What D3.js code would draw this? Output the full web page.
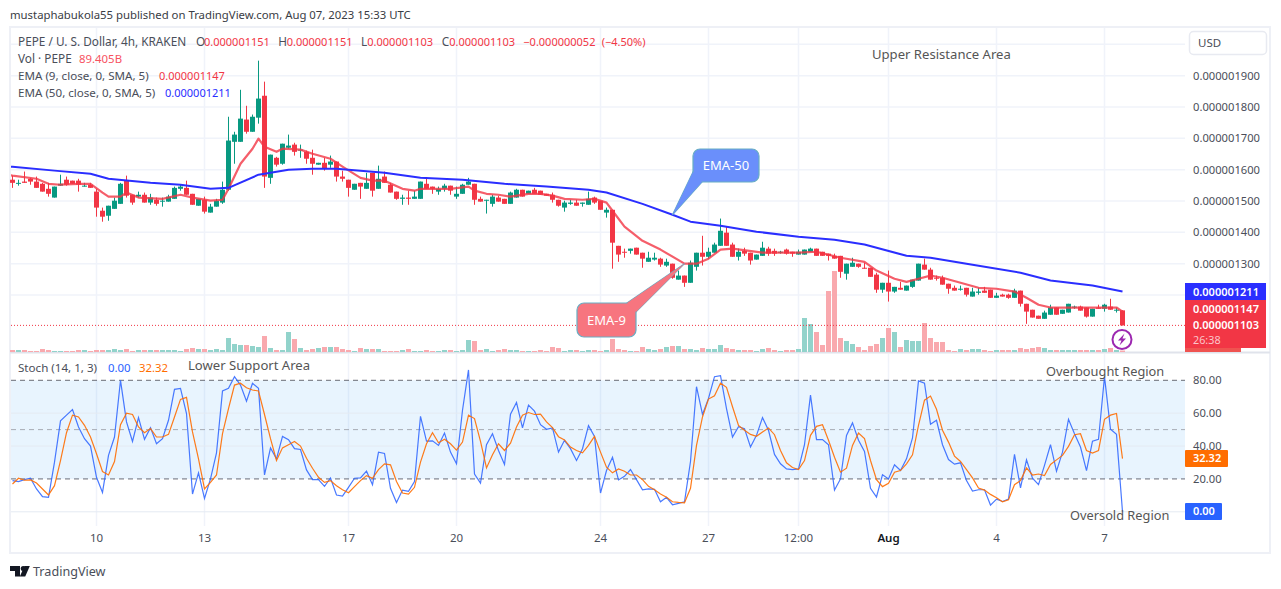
<!DOCTYPE html>
<html>
<head>
<meta charset="utf-8">
<script src="https://d3js.org/d3.v7.min.js"></script>
<style>
  html, body { margin: 0; padding: 0; background: #fff; }
  svg { display: block; }
  text { font-family: "Noto Sans", sans-serif; font-size: 12px; }
</style>
</head>
<body>
<div id="chart"></div>
<script>
// all prices are in units of 0.000000001 USD, bars are 4h candles
var opens = [
  1568,1555,1562,1571,1562,1555,1539,1511,1549,1568,
  1565,1565,1546,1552,1530,1469,1453,1475,1491,1565,
  1520,1514,1520,1495,1504,1498,1498,1507,1539,1542,
  1523,1485,1504,1463,1482,1495,1536,1689,1689,1760,
  1721,1766,1836,1574,1638,1619,1670,1680,1661,1657,
  1638,1616,1622,1616,1626,1578,1568,1536,1558,1539,
  1590,1539,1578,1552,1530,1507,1511,1507,1507,1555,
  1546,1530,1539,1549,1514,1523,1552,1555,1507,1501,
  1491,1511,1507,1491,1511,1536,1523,1536,1533,1523,
  1520,1504,1479,1491,1495,1491,1488,1511,1501,1463,
  1472,1357,1338,1341,1351,1335,1306,1313,1316,1294,
  1300,1249,1262,1239,1290,1335,1322,1335,1357,1399,
  1361,1322,1341,1335,1313,1325,1348,1341,1335,1345,
  1338,1329,1329,1338,1348,1338,1332,1325,1325,1268,
  1290,1300,1287,1287,1265,1217,1239,1211,1223,1214,
  1226,1246,1297,1281,1255,1255,1236,1223,1217,1223,
  1195,1207,1214,1217,1191,1201,1201,1191,1214,1172,
  1153,1134,1124,1137,1160,1140,1144,1160,1163,1160,
  1131,1160,1156,1163,1150,1151];
var closes = [
  1558,1558,1558,1562,1542,1530,1523,1546,1555,1552,
  1555,1552,1549,1542,1479,1450,1485,1501,1555,1517,
  1495,1520,1495,1511,1491,1501,1514,1542,1546,1520,
  1488,1507,1466,1482,1501,1536,1693,1712,1763,1721,
  1769,1827,1578,1648,1616,1683,1677,1657,1664,1635,
  1619,1622,1603,1626,1578,1571,1542,1555,1546,1558,
  1533,1571,1558,1527,1507,1511,1507,1514,1562,1539,
  1539,1539,1549,1533,1523,1552,1562,1504,1498,1504,
  1514,1498,1491,1527,1536,1514,1533,1523,1520,1517,
  1504,1485,1495,1495,1485,1495,1507,1495,1472,1472,
  1367,1329,1335,1348,1329,1316,1319,1319,1297,1306,
  1255,1262,1239,1303,1335,1322,1338,1361,1405,1357,
  1322,1338,1332,1310,1329,1351,1332,1332,1338,1332,
  1332,1338,1345,1348,1325,1325,1325,1316,1274,1300,
  1303,1290,1284,1258,1217,1239,1211,1226,1217,1230,
  1249,1300,1281,1249,1252,1233,1220,1214,1220,1201,
  1211,1211,1207,1191,1198,1195,1191,1214,1172,1147,
  1128,1124,1144,1160,1137,1153,1172,1163,1150,1131,
  1156,1156,1169,1153,1153,1103];
var highs = [
  1581,1568,1594,1574,1578,1558,1558,1546,1584,1578,
  1565,1571,1558,1558,1539,1479,1485,1511,1558,1581,
  1520,1530,1527,1523,1511,1511,1520,1546,1552,1565,
  1523,1507,1514,1491,1507,1562,1769,1721,1855,1804,
  1776,1948,1881,1648,1641,1683,1712,1686,1680,1661,
  1664,1622,1638,1645,1626,1597,1568,1555,1558,1590,
  1590,1613,1594,1558,1530,1520,1533,1533,1562,1574,
  1546,1546,1555,1549,1546,1555,1574,1555,1514,1504,
  1520,1517,1507,1530,1539,1536,1533,1542,1533,1523,
  1527,1504,1501,1504,1504,1495,1530,1514,1501,1479,
  1472,1357,1348,1348,1351,1335,1338,1335,1319,1316,
  1300,1278,1262,1310,1335,1389,1351,1367,1444,1418,
  1367,1348,1351,1335,1329,1370,1354,1348,1341,1348,
  1338,1345,1345,1351,1348,1338,1332,1332,1325,1300,
  1319,1300,1303,1287,1271,1239,1278,1226,1242,1230,
  1249,1300,1316,1287,1262,1262,1236,1230,1230,1223,
  1223,1223,1226,1217,1207,1204,1204,1220,1214,1172,
  1153,1134,1150,1169,1160,1153,1172,1166,1166,1160,
  1156,1169,1172,1188,1160,1151];
var lows = [
  1542,1549,1558,1552,1542,1530,1514,1511,1549,1549,
  1555,1530,1546,1542,1450,1434,1437,1475,1491,1511,
  1488,1511,1495,1488,1485,1482,1498,1507,1533,1520,
  1488,1485,1460,1463,1482,1491,1533,1619,1689,1715,
  1721,1747,1542,1555,1610,1616,1667,1645,1638,1619,
  1584,1616,1597,1606,1562,1562,1514,1536,1507,1539,
  1514,1539,1558,1527,1504,1488,1488,1507,1507,1539,
  1523,1520,1530,1520,1507,1523,1552,1488,1498,1460,
  1482,1498,1491,1491,1511,1514,1523,1523,1520,1517,
  1495,1482,1466,1488,1485,1482,1488,1491,1472,1447,
  1284,1306,1319,1332,1329,1287,1306,1310,1290,1290,
  1252,1249,1226,1239,1278,1294,1316,1335,1357,1357,
  1322,1310,1325,1297,1313,1325,1325,1325,1332,1329,
  1322,1329,1329,1338,1325,1325,1310,1316,1255,1249,
  1290,1287,1284,1258,1207,1207,1179,1207,1217,1214,
  1223,1246,1281,1249,1246,1233,1204,1214,1214,1195,
  1195,1201,1207,1191,1191,1195,1188,1191,1163,1108,
  1128,1124,1124,1137,1137,1140,1144,1156,1150,1128,
  1131,1156,1147,1153,1144,1103];

// volume in billions of PEPE
var volumes = [
  120,120,120,60,60,180,120,60,60,60,
  60,120,120,60,120,120,120,180,120,180,
  60,120,120,120,120,120,120,120,60,180,
  240,180,180,120,180,120,840,480,420,420,
  360,300,960,240,120,120,1200,780,240,120,
  180,240,300,300,300,180,120,60,240,180,
  180,180,60,60,60,120,180,60,60,120,
  60,60,120,120,60,120,720,660,120,180,
  60,120,180,120,120,60,60,60,120,60,
  300,240,60,120,120,60,120,120,60,120,
  780,180,120,60,60,300,180,120,180,300,
  360,360,180,180,120,240,180,180,420,240,
  180,120,120,120,60,180,240,120,60,120,
  120,180,2040,1680,1200,420,3660,4860,840,660,
  480,300,120,360,480,840,1440,1200,300,720,
  660,660,1740,840,600,600,120,60,180,120,
  180,180,120,60,120,120,120,120,240,180,
  240,300,240,120,120,120,120,120,120,120,
  120,120,180,240,120,89.405];

// moving averages, read at the bars listed next to them (bar -1 is cut off by the pane edge)
var ema9Bars = [-1,0,4,6,8,11,13,15,16,18,19,21,25,28,30,33,35,36,38,40,41,42,44,45,48,50,53,55,58,60,62,65,67,68,73,76,77,79,81,83,86,88,90,92,95,97,99,100,102,105,108,112,114,116,118,120,125,131,134,138,142,144,147,149,151,153,155,158,161,164,167,169,171,173,178,184,185];
var ema9Values = [1584,1581,1571,1555,1552,1555,1555,1527,1514,1514,1527,1511,1507,1520,1511,1501,1504,1539,1619,1667,1699,1673,1657,1667,1664,1651,1635,1610,1574,1565,1565,1539,1533,1539,1539,1546,1533,1523,1520,1514,1523,1523,1517,1507,1504,1507,1495,1469,1418,1373,1345,1300,1300,1316,1345,1348,1335,1335,1338,1319,1306,1278,1252,1242,1252,1262,1255,1239,1223,1220,1211,1191,1169,1160,1160,1160,1147];
var ema50Bars = [-1,0,7,13,16,23,28,33,36,41,43,46,50,54,56,62,68,75,82,89,96,99,105,110,113,118,124,131,137,142,149,153,159,168,173,180,185];
var ema50Values = [1611,1609,1597,1587,1571,1558,1552,1539,1542,1584,1590,1600,1603,1603,1600,1590,1574,1568,1555,1546,1536,1527,1491,1456,1434,1421,1402,1386,1376,1361,1325,1319,1300,1271,1246,1230,1211];

var stochK = [
  19,18.4,19.6,20.4,13.9,9.2,8.8,30.2,55.3,58.8,
  62.2,51.6,44.5,40,21,11.8,34.3,45.5,80,54.7,
  42.8,57.3,44.1,51.2,41.4,44.5,55.7,74.5,75.1,59.8,
  10.8,23.7,8.1,20,35.9,73.5,75.1,82.2,77.1,67.3,
  78.2,75.1,22.4,38.8,32.2,45.9,43.9,38.4,37.9,25.5,
  19.6,19.6,15.5,20.6,10.2,9.6,14.9,20.4,20.6,24.7,
  16.5,36.3,35.5,14.3,5.7,13.2,12.4,18.4,58.1,43,
  43.2,40.4,47.9,36.3,29.2,61.8,86.3,23,17.5,40.8,
  47.5,37.3,28.8,59.4,66.5,51,64.9,61.2,53,50.2,
  51,36.3,43.5,38.4,31.2,38.4,52.4,45.9,11.4,25.1,
  33.2,19.4,21.6,25.7,19.6,13.4,13.9,13.7,6.1,8.8,
  4.3,5.1,6.1,30.6,76.1,59.2,69,82.2,82.8,62.8,
  45.5,51.8,50.6,39.4,46.5,57.3,49.6,34.9,29.2,26.1,
  25.7,26.1,40.8,71,43.9,43.9,40.8,13.2,20,46.5,
  54.1,43.5,36.7,14.3,9,22.6,20,28.6,25.1,32.2,
  44.9,79.6,78.2,53.3,55.7,40.8,31.8,29,29.8,19,
  12.6,13.4,13.4,4.1,7.7,6.3,7.7,34.9,14.5,31.6,
  20.4,16.5,28.2,40.8,24.7,36.3,56.3,47.5,39.4,25.1,
  43,44.1,82.2,50.2,47.1,0];
var stochD = [
  16.9,20.4,19.2,19.4,17.5,13.9,10.2,15.9,31.2,48.1,
  58.8,57.7,52.6,45.5,35.3,24.5,22.4,30.6,53,60,
  59.2,51.6,48.1,50.6,45.5,45.5,47.1,57.7,68.4,69.6,
  48.6,32.2,13.9,17.9,22.4,47.5,62.8,77.1,78.2,75.5,
  74.1,73.5,59.2,44.5,31.2,38.9,40.8,42.8,40,32.6,
  26.5,21,17.9,19,15.9,13.4,11.6,15.3,19,22,
  20.4,25.7,29.2,28.6,18.4,11.4,10.8,14.9,30.2,41.4,
  48.1,42,44.1,41.4,37.5,42.4,58.8,56.7,42.8,26.7,
  34.7,41.4,37.3,41.8,51.6,58.8,60.4,59.2,59.4,54.7,
  51.2,45.7,43.7,39.4,37.3,35.9,40.4,45.9,36.3,27.1,
  23.7,26.1,24.7,22.4,22.4,19.6,15.5,13.4,10.8,8.8,
  6.1,5.7,5.5,14.3,40.4,57.7,68.6,70.6,78.2,75.7,
  63.9,52.6,49.6,47.1,45.9,48.6,51,46.9,37.3,29.8,
  26.9,25.7,31.2,46.5,52,53,43.5,33.2,24.1,26.5,
  40.4,47.9,44.5,31.2,19.6,15.3,17.3,24.1,25.1,29.2,
  34.7,52.6,67.9,70.4,62.4,49.6,42.4,33.9,30.6,25.7,
  20.6,14.5,13.2,10.6,8.5,6.1,7.3,16.5,19,26.7,
  22.4,23,22,28.8,31.6,34.3,39.8,46.9,47.5,37.3,
  35.7,37.3,56.3,58.8,59.8,32.32];

var priceGrid = [1200,1300,1400,1500,1600,1700,1800,1900,2000];
var priceTicks = [1300,1400,1500,1600,1700,1800,1900];
var stochTicks = [20,40,60,80];
var timeTickBars = [14,32,56,74,98,116,131,146,164,182];
var timeTickLabels = ["10","13","17","20","24","27","12:00","Aug","4","7"];

var UP = "#089981", DOWN = "#F23645";
var GRID = "#f0f3fa", TXT = "#4a4e59";
var plotLeft = 11, plotRight = 1185, priceTop = 28, priceBottom = 352;
var stochTop = 354, stochBottom = 526;

var svg = d3.select("#chart").append("svg")
  .attr("width", 1281)
  .attr("height", 589);

svg.append("clipPath").attr("id", "pane").append("rect")
  .attr("x", plotLeft).attr("y", priceTop).attr("width", plotRight - plotLeft).attr("height", priceBottom - priceTop);

var bars = d3.range(opens.length);

var x = d3.scaleLinear().domain([0, bars.length - 1]).range([12.5, 1122.5]);
var y = d3.scaleLinear().domain([1200, 1900]).range([295, 75.7]);
var yVol = d3.scaleLinear().domain([0, 4860]).range([352, 271]);
var yStoch = d3.scaleLinear().domain([0, 80]).range([511.8, 380.3]);

function priceText(v) { return (v * 1e-9).toFixed(9); }

function label(sel, px, py, str, color, size, anchor, weight) {
  return sel.append("text")
    .attr("x", px).attr("y", py)
    .attr("dy", "0.35em")
    .attr("fill", color)
    .style("font-size", (size || 11.8) + "px")
    .style("font-weight", weight || 400)
    .attr("text-anchor", anchor || "start")
    .text(str);
}

// frame
svg.append("rect")
  .attr("x", 10).attr("y", 27).attr("width", 1260).attr("height", 526)
  .attr("fill", "#fff").attr("stroke", "#eef0f6").attr("stroke-width", 2);

// grid
var grid = svg.append("g");
grid.selectAll("line.h").data(priceGrid).enter().append("line")
  .attr("x1", plotLeft).attr("x2", plotRight)
  .attr("y1", function(d) { return y(d); }).attr("y2", function(d) { return y(d); })
  .attr("stroke", GRID).attr("stroke-width", 1.5);
grid.selectAll("line.v").data(timeTickBars).enter().append("line")
  .attr("x1", function(d) { return x(d); }).attr("x2", function(d) { return x(d); })
  .attr("y1", priceTop).attr("y2", priceBottom)
  .attr("stroke", GRID).attr("stroke-width", 1.5);
grid.selectAll("line.sv").data(timeTickBars).enter().append("line")
  .attr("x1", function(d) { return x(d); }).attr("x2", function(d) { return x(d); })
  .attr("y1", stochTop).attr("y2", stochBottom)
  .attr("stroke", GRID).attr("stroke-width", 1.5);

// pane divider
svg.append("line")
  .attr("x1", 10).attr("x2", 1270).attr("y1", 352.5).attr("y2", 352.5)
  .attr("stroke", "#e0e3eb").attr("stroke-width", 2);

// volume
svg.append("g").selectAll("rect").data(bars).enter().append("rect")
  .attr("x", function(d) { return x(d) - 2.5; })
  .attr("width", 5)
  .attr("y", function(d) { return yVol(volumes[d]); })
  .attr("height", function(d) { return yVol(0) - yVol(volumes[d]); })
  .attr("fill", function(d) { return closes[d] >= opens[d] ? "#92d3cb" : "#f9a9ae"; });

// last close
svg.append("line")
  .attr("x1", plotLeft).attr("x2", plotRight)
  .attr("y1", y(closes[closes.length - 1])).attr("y2", y(closes[closes.length - 1]))
  .attr("stroke", DOWN).attr("stroke-width", 1).attr("stroke-dasharray", "1 2");

// candles
var candles = svg.append("g").selectAll("g").data(bars).enter().append("g")
  .attr("fill", function(d) { return closes[d] >= opens[d] ? UP : DOWN; });
candles.append("rect")
  .attr("x", function(d) { return x(d) - 0.5; })
  .attr("width", 1)
  .attr("y", function(d) { return y(highs[d]); })
  .attr("height", function(d) { return y(lows[d]) - y(highs[d]); });
candles.append("rect")
  .attr("x", function(d) { return x(d) - 2.5; })
  .attr("width", 5)
  .attr("y", function(d) { return y(Math.max(opens[d], closes[d])); })
  .attr("height", function(d) { return Math.max(1, Math.abs(y(opens[d]) - y(closes[d]))); });

// moving averages
var emaLine = d3.line()
  .x(function(d) { return x(d[0]); })
  .y(function(d) { return y(d[1]); });

svg.append("path")
  .attr("d", emaLine(d3.zip(ema9Bars, ema9Values)))
  .attr("clip-path", "url(#pane)")
  .attr("fill", "none").attr("stroke", "#f23645").attr("stroke-opacity", 0.8)
  .attr("stroke-width", 2.2).attr("stroke-linejoin", "round");
svg.append("path")
  .attr("d", emaLine(d3.zip(ema50Bars, ema50Values)))
  .attr("clip-path", "url(#pane)")
  .attr("fill", "none").attr("stroke", "#2a2eff")
  .attr("stroke-width", 2).attr("stroke-linejoin", "round");

// price axis
var priceAxis = d3.axisRight(y).tickValues(priceTicks).tickSize(0).tickPadding(0).tickFormat(priceText);
svg.append("g").attr("transform", "translate(1193,0)").call(priceAxis)
  .call(function(g) { g.select(".domain").remove(); })
  .selectAll("text").attr("fill", TXT).style("font-size", "11.2px");

// USD button
svg.append("rect")
  .attr("x", 1189.5).attr("y", 31.5).attr("width", 77).attr("height", 23).attr("rx", 4)
  .attr("fill", "#fff").attr("stroke", "#e8eaf1").attr("stroke-width", 1.5);
label(svg, 1198, 43, "USD", TXT, 11.5);

// price labels
svg.append("rect").attr("x", 1185).attr("y", 283).attr("width", 81).attr("height", 17).attr("fill", "#2a2eff");
svg.append("rect").attr("x", 1185).attr("y", 300).attr("width", 81).attr("height", 48).attr("fill", "#f23645");
svg.append("rect").attr("x", 1185).attr("y", 348).attr("width", 56).attr("height", 4).attr("fill", "#ef5350");
label(svg, 1193, 292, priceText(ema50Values[ema50Values.length - 1]), "#fff", 11, "start", 600);
label(svg, 1193, 309, priceText(ema9Values[ema9Values.length - 1]), "#fff", 11, "start", 600);
label(svg, 1193, 325.5, priceText(closes[closes.length - 1]), "#fff", 11, "start", 600);
label(svg, 1193, 340, "26:38", "#fbc5ca", 10.8);

// lightning badge
svg.append("circle").attr("cx", 1122).attr("cy", 339.5).attr("r", 9.5)
  .attr("fill", "#fff").attr("stroke", "#9c27b0").attr("stroke-width", 2);
svg.append("path").attr("d", "M1124.5 333.5 L1118 340.5 L1121.5 340.5 L1119.5 345.5 L1126 338.5 L1122.5 338.5 Z")
  .attr("fill", "#9c27b0");

// callouts, their tips sit on the moving averages
function callout(tipBar, tipVal, box, base, fill, name) {
  var tx = x(tipBar), ty = y(tipVal);
  svg.append("path")
    .attr("d", "M" + base[0].join(" ") + " L" + tx + " " + ty + " L" + base[1].join(" ") + " Z")
    .attr("fill", fill).attr("stroke", "#68aec4").attr("stroke-width", 1.2);
  svg.append("rect")
    .attr("x", box[0]).attr("y", box[1]).attr("width", box[2]).attr("height", box[3]).attr("rx", 7)
    .attr("fill", fill).attr("stroke", "#68aec4").attr("stroke-width", 1.2);
  // cover the seam between box and pointer
  svg.append("path")
    .attr("d", "M" + base[0].join(" ") + " L" + tx + " " + ty + " L" + base[1].join(" ") + " Z")
    .attr("fill", fill);
  label(svg, box[0] + box[2] / 2, box[1] + box[3] / 2, name, "#fff", 13, "middle", 400);
}
callout(110, 1456, [693, 149, 66, 33], [[693, 172], [702, 182]], "#6a8ffb", "EMA-50");
callout(112, 1300, [577, 303, 59, 34], [[627, 303], [636, 312]], "#f7757f", "EMA-9");

// legend
label(svg, 18, 42, "PEPE / U. S. Dollar, 4h, KRAKEN", TXT);
label(svg, 196, 42, "O", TXT);
label(svg, 204, 42, "0.000001151", DOWN, 11);
label(svg, 278.3, 42, "H", TXT);
label(svg, 286.7, 42, "0.000001151", DOWN, 11);
label(svg, 361, 42, "L", TXT);
label(svg, 367.3, 42, "0.000001103", DOWN, 11);
label(svg, 441.7, 42, "C", TXT);
label(svg, 449.3, 42, "0.000001103", DOWN, 11);
label(svg, 523.3, 42, "\u22120.000000052", DOWN, 11);
label(svg, 601.7, 42, "(\u22124.50%)", DOWN, 11);
label(svg, 18, 59, "Vol \u00b7 PEPE", TXT);
label(svg, 79, 59, "89.405B", "#f7525f", 11.4);
label(svg, 18, 76, "EMA (9, close, 0, SMA, 5)", TXT, 11.6);
label(svg, 159, 76, "0.000001147", DOWN, 11);
label(svg, 18, 93, "EMA (50, close, 0, SMA, 5)", TXT, 11.6);
label(svg, 165, 93, "0.000001211", "#2a2eff", 11);

label(svg, 872, 54, "Upper Resistance Area", "#555", 13.1);

// stochastic pane
svg.append("rect")
  .attr("x", plotLeft).attr("width", plotRight - plotLeft)
  .attr("y", yStoch(80)).attr("height", yStoch(20) - yStoch(80))
  .attr("fill", "#2196f3").attr("fill-opacity", 0.1);
svg.append("g").selectAll("line").data([0, 40, 60]).enter().append("line")
  .attr("x1", plotLeft).attr("x2", plotRight)
  .attr("y1", function(d) { return yStoch(d); }).attr("y2", function(d) { return yStoch(d); })
  .attr("stroke", "#e4eaf2").attr("stroke-width", 1);
svg.append("g").selectAll("line").data([20, 50, 80]).enter().append("line")
  .attr("x1", plotLeft).attr("x2", plotRight)
  .attr("y1", function(d) { return yStoch(d); }).attr("y2", function(d) { return yStoch(d); })
  .attr("stroke", function(d) { return d === 50 ? "#a7abb4" : "#696c76"; })
  .attr("stroke-width", 1).attr("stroke-dasharray", "5 4");

var stochLine = d3.line()
  .x(function(d, i) { return x(i); })
  .y(function(d) { return yStoch(d); });
svg.append("path").attr("d", stochLine(stochK))
  .attr("fill", "none").attr("stroke", "#2962ff").attr("stroke-opacity", 0.85).attr("stroke-width", 1.2);
svg.append("path").attr("d", stochLine(stochD))
  .attr("fill", "none").attr("stroke", "#ff6d00").attr("stroke-opacity", 0.9).attr("stroke-width", 1.2);

var stochAxis = d3.axisRight(yStoch).tickValues(stochTicks).tickSize(0).tickPadding(0)
  .tickFormat(function(d) { return d.toFixed(2); });
svg.append("g").attr("transform", "translate(1193,0)").call(stochAxis)
  .call(function(g) { g.select(".domain").remove(); })
  .selectAll("text").attr("fill", TXT).style("font-size", "11.2px");

svg.append("rect").attr("x", 1185).attr("y", 450).attr("width", 43).attr("height", 17).attr("rx", 1).attr("fill", "#ff6d00");
label(svg, 1193, 458.5, stochD[stochD.length - 1].toFixed(2), "#fff", 11, "start", 600);
svg.append("rect").attr("x", 1185).attr("y", 503).attr("width", 37).attr("height", 17).attr("rx", 1).attr("fill", "#2962ff");
label(svg, 1193, 511.5, stochK[stochK.length - 1].toFixed(2), "#fff", 11, "start", 600);

label(svg, 18, 368, "Stoch (14, 1, 3)", TXT, 11.6);
label(svg, 108, 368, stochK[stochK.length - 1].toFixed(2), "#2962ff", 11.4);
label(svg, 139, 368, stochD[stochD.length - 1].toFixed(2), "#ff6d00", 11.4);
label(svg, 188, 365, "Lower Support Area", "#555", 13.1);
label(svg, 1046, 372, "Overbought Region", "#555", 12.8);
label(svg, 1070, 516, "Oversold Region", "#555", 12.8);

// time axis
var timeAxis = d3.axisBottom(x).tickValues(timeTickBars).tickSize(0).tickPadding(0)
  .tickFormat(function(d, i) { return timeTickLabels[i]; });
svg.append("g").attr("transform", "translate(-0.5,533.5)").call(timeAxis)
  .call(function(g) { g.select(".domain").remove(); })
  .selectAll("text")
    .attr("fill", function(d, i) { return timeTickLabels[i] === "Aug" ? "#131722" : TXT; })
    .style("font-size", "11.5px")
    .style("font-weight", function(d, i) { return timeTickLabels[i] === "Aug" ? 600 : 400; });

// header and footer
label(svg, 10, 15, "mustaphabukola55 published on TradingView.com, Aug 07, 2023 15:33 UTC", "#3a3d45", 11.35);

var logo = svg.append("g").attr("fill", "#131722");
logo.append("path").attr("d", "M10 566 H20 V576.5 H15 V571 H10 Z");
logo.append("circle").attr("cx", 23.2).attr("cy", 568.5).attr("r", 2.5);
logo.append("path").attr("d", "M24.5 566 H29.8 L25.2 576.5 H19.8 Z");
label(svg, 33, 571.5, "TradingView", "#4a4e59", 12.6);
</script>
</body>
</html>
